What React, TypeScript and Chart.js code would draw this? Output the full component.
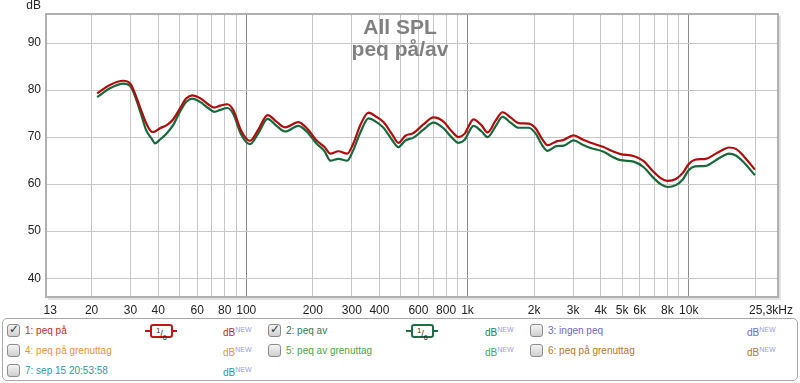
import React, { useEffect, useRef } from "react";
import { Chart, registerables } from "chart.js";

Chart.register(...registerables);

const FREQ_HZ = [21.2, 24.2, 27.8, 29.9, 33.1, 35.3, 37.6, 38.7, 40.8, 43.9, 46.8, 50.3, 53.5, 57.0, 61.9, 67.3, 71.7, 76.3, 82.1, 87.3, 95.0, 104, 113, 125, 137, 150, 172, 191, 207, 226, 240, 261, 286, 305, 328, 357, 388, 417, 458, 487, 524, 570, 632, 702, 779, 846, 911, 969, 1065, 1158, 1232, 1339, 1440, 1565, 1702, 1888, 2031, 2161, 2299, 2525, 2716, 3017, 3313, 3601, 4119, 4528, 4920, 5633, 6257, 6873, 7464, 8035, 8739, 9394, 10000, 10660, 11938, 13249, 14255, 15171, 16322, 17742, 19893];

const PEQ_ON = [79.3, 81.1, 82.0, 81.4, 76.4, 73.0, 71.1, 71.2, 71.9, 72.6, 73.8, 76.2, 78.2, 78.9, 78.3, 77.0, 76.3, 76.7, 77.0, 75.8, 71.3, 69.2, 71.5, 74.7, 73.3, 72.1, 73.2, 71.5, 69.4, 67.9, 66.5, 67.0, 66.5, 68.7, 72.6, 75.2, 74.3, 73.2, 70.5, 68.8, 70.3, 70.9, 72.7, 74.2, 73.3, 71.3, 70.0, 70.7, 73.8, 72.5, 71.0, 73.5, 75.3, 74.2, 73.0, 72.9, 71.9, 69.8, 68.3, 69.1, 69.4, 70.4, 69.5, 68.8, 67.9, 67.0, 66.4, 66.0, 64.9, 62.8, 61.3, 60.7, 61.1, 62.4, 64.3, 65.2, 65.4, 66.5, 67.3, 67.8, 67.5, 65.9, 63.1];

const PEQ_OFF = [78.5, 80.4, 81.4, 80.9, 75.6, 71.5, 69.5, 68.7, 69.5, 70.9, 72.6, 75.5, 77.5, 78.2, 77.5, 76.2, 75.4, 75.8, 76.2, 75.0, 70.5, 68.5, 70.7, 73.9, 72.4, 71.2, 72.4, 70.8, 68.7, 67.0, 65.0, 65.4, 65.0, 67.3, 71.0, 74.0, 73.2, 72.0, 69.3, 67.9, 69.3, 69.9, 71.6, 73.1, 71.9, 70.0, 68.8, 69.4, 72.4, 71.2, 70.0, 72.3, 74.3, 73.1, 72.0, 72.0, 70.8, 68.5, 67.1, 68.1, 68.2, 69.3, 68.4, 67.7, 66.9, 65.8, 65.1, 64.8, 63.6, 61.5, 60.0, 59.4, 59.8, 61.0, 63.0, 63.8, 63.9, 65.1, 66.0, 66.5, 66.1, 64.6, 61.9];

const Y_TICKS = [40, 50, 60, 70, 80, 90];
const X_GRID = [20, 30, 40, 50, 60, 70, 80, 90, 100, 200, 300, 400, 500, 600, 700, 800, 900, 1000, 2000, 3000, 4000, 5000, 6000, 7000, 8000, 9000, 10000, 20000];
const X_LABELS: [number, string][] = [
  [13, "13"], [20, "20"], [30, "30"], [40, "40"], [60, "60"], [80, "80"], [100, "100"],
  [200, "200"], [300, "300"], [400, "400"], [600, "600"], [800, "800"], [1000, "1k"],
  [2000, "2k"], [3000, "3k"], [4000, "4k"], [5000, "5k"], [6000, "6k"], [8000, "8k"], [10000, "10k"],
  [25300, "25,3kHz"],
];
const X_MIN = 12.45;
const X_MAX = 25300;
const Y_MIN = 36;
const Y_MAX = 96.2;

const TITLE_1 = "All SPL";
const TITLE_2 = "peq på/av";

const RED = "#b00c0c";
const GREEN = "#17683a";
const FONT = "'Liberation Sans', Arial, sans-serif";

type LegendItem = { n: string; color: string; checked: boolean; badge: boolean; x: number; row: number };
const LEGEND: LegendItem[] = [
  { n: "1: peq på", color: "#c42a2a", checked: true, badge: true, x: 7, row: 0 },
  { n: "2: peq av", color: "#2b7a55", checked: true, badge: true, x: 268, row: 0 },
  { n: "3: ingen peq", color: "#6a68d2", checked: false, badge: false, x: 530, row: 0 },
  { n: "4: peq på grenuttag", color: "#ee9440", checked: false, badge: false, x: 7, row: 1 },
  { n: "5: peq av grenuttag", color: "#48a848", checked: false, badge: false, x: 268, row: 1 },
  { n: "6: peq på grenuttag", color: "#b8752e", checked: false, badge: false, x: 530, row: 1 },
  { n: "7: sep 15 20:53:58", color: "#2f9aa6", checked: false, badge: false, x: 7, row: 2 },
];

const framePlugin = {
  id: "frame",
  afterDraw(chart: any) {
    const { ctx, chartArea } = chart;
    const { left, right, top, bottom } = chartArea;
    const xs = chart.scales.x;
    ctx.save();
    // frame with shadow
    ctx.strokeStyle = "#e2e2e2";
    ctx.lineWidth = 2;
    ctx.beginPath();
    ctx.moveTo(right + 2, top + 2);
    ctx.lineTo(right + 2, bottom + 2);
    ctx.lineTo(left + 2, bottom + 2);
    ctx.stroke();
    ctx.strokeStyle = "#b0b0b0";
    ctx.lineWidth = 2;
    ctx.strokeRect(left, top, right - left, bottom - top);
    // title
    ctx.fillStyle = "#808080";
    ctx.font = `bold 21px ${FONT}`;
    ctx.textAlign = "center";
    ctx.textBaseline = "alphabetic";
    ctx.fillText(TITLE_1, 400, 34);
    ctx.fillText(TITLE_2, 400, 56);
    // unit label
    ctx.fillStyle = "#222";
    ctx.font = `12px ${FONT}`;
    ctx.textAlign = "right";
    ctx.fillText("dB", 41, 9);
    // x labels
    ctx.textAlign = "center";
    for (const [v, t] of X_LABELS) {
      let px = xs.getPixelForValue(v);
      const w = ctx.measureText(t).width;
      px = Math.max(px, left + 2);
      px = Math.min(px, 793 - w / 2);
      ctx.fillText(t, px, 314);
    }
    ctx.restore();
  },
};

function Checkbox({ checked }: { checked: boolean }) {
  return (
    <div
      style={{
        position: "absolute",
        left: 0,
        top: 0,
        width: 11,
        height: 11,
        border: "1px solid #8c8c8c",
        borderRadius: 3,
        background: "linear-gradient(#f4f4f4, #cfcfcf)",
        boxSizing: "content-box",
      }}
    >
      {checked && (
        <span
          style={{
            position: "absolute",
            left: 1,
            top: -3,
            fontSize: 12,
            fontWeight: "bold",
            color: "#333",
            fontFamily: "'DejaVu Sans', sans-serif",
          }}
        >
          ✓
        </span>
      )}
    </div>
  );
}

function Badge({ color }: { color: string }) {
  return (
    <div style={{ position: "absolute", left: 138, top: 0, width: 32, height: 13 }}>
      <div style={{ position: "absolute", left: 0, top: 6, width: 32, height: 2, background: color }} />
      <div
        style={{
          position: "absolute",
          left: 5,
          top: 0,
          width: 19,
          height: 10,
          border: `2px solid ${color}`,
          borderRadius: 3,
          background: "#fff",
          fontSize: 9,
          lineHeight: "10px",
          textAlign: "center",
          color: "#222",
          fontFamily: FONT,
        }}
      >
        <sup style={{ fontSize: 7 }}>1</sup>/<sub style={{ fontSize: 7 }}>6</sub>
      </div>
    </div>
  );
}

export default function App() {
  const ref = useRef<HTMLCanvasElement | null>(null);

  useEffect(() => {
    document.body.style.margin = "0";
    const canvas = ref.current;
    if (!canvas) return;
    const chart = new Chart(canvas, {
      type: "line",
      data: {
        datasets: [
          {
            label: "1: peq på",
            data: FREQ_HZ.map((f, i) => ({ x: f, y: PEQ_ON[i] })),
            borderColor: RED,
            borderWidth: 2.2,
            pointRadius: 0,
            fill: false,
            cubicInterpolationMode: "monotone",
          },
          {
            label: "2: peq av",
            data: FREQ_HZ.map((f, i) => ({ x: f, y: PEQ_OFF[i] })),
            borderColor: GREEN,
            borderWidth: 2.2,
            pointRadius: 0,
            fill: false,
            cubicInterpolationMode: "monotone",
          },
        ],
      },
      options: {
        animation: false,
        responsive: false,
        layout: { padding: { top: 14, right: 22, left: 0, bottom: 0 } },
        plugins: { legend: { display: false }, tooltip: { enabled: false } },
        scales: {
          x: {
            type: "logarithmic",
            min: X_MIN,
            max: X_MAX,
            afterBuildTicks: (s: any) => {
              s.ticks = X_GRID.map((v) => ({ value: v }));
            },
            afterFit: (s: any) => {
              s.height = 19;
            },
            ticks: { display: false },
            grid: {
              drawTicks: false,
              color: (c: any) => {
                const v = c.tick && c.tick.value;
                return v === 100 || v === 1000 || v === 10000 ? "#8a8a8a" : "#c6c6c6";
              },
              lineWidth: 1,
            },
            border: { display: false },
          },
          y: {
            min: Y_MIN,
            max: Y_MAX,
            afterBuildTicks: (s: any) => {
              s.ticks = Y_TICKS.map((v) => ({ value: v }));
            },
            afterFit: (s: any) => {
              s.width = 46;
            },
            ticks: { padding: 5, color: "#222", font: { size: 12, family: FONT } },
            grid: { drawTicks: false, color: "#c6c6c6", lineWidth: 1 },
            border: { display: false },
          },
        },
      } as any,
      plugins: [framePlugin],
    });
    return () => chart.destroy();
  }, []);

  return (
    <div
      style={{
        position: "absolute",
        left: 0,
        top: 0,
        width: 800,
        height: 383,
        background: "#fff",
        fontFamily: FONT,
        overflow: "hidden",
      }}
    >
      <canvas ref={ref} width={800} height={316} style={{ position: "absolute", left: 0, top: 0, width: 800, height: 316 }} />
      <div
        style={{
          position: "absolute",
          left: 2,
          top: 318,
          width: 794,
          height: 61,
          border: "1px solid #a8a8a8",
          borderRadius: 5,
          boxSizing: "content-box",
        }}
      />
      {LEGEND.map((it) => {
        const top = 324 + it.row * 20;
        const dbX = it.x === 7 ? 223 : it.x === 268 ? 485 : 747;
        return (
          <div key={it.n}>
            <div style={{ position: "absolute", left: it.x, top, width: 13, height: 13 }}>
              <Checkbox checked={it.checked} />
            </div>
            <div
              style={{
                position: "absolute",
                left: it.x + 18,
                top: top,
                height: 13,
                lineHeight: "13px",
                fontSize: 10,
                color: it.color,
                whiteSpace: "nowrap",
              }}
            >
              {it.n}
            </div>
            {it.badge && (
              <div style={{ position: "absolute", left: it.x, top: top }}>
                <Badge color={it.color === "#c42a2a" ? "#c01818" : "#1d6e45"} />
              </div>
            )}
            <div
              style={{
                position: "absolute",
                left: dbX,
                top: top - 1,
                fontSize: 10,
                lineHeight: "13px",
                color: it.color,
                whiteSpace: "nowrap",
              }}
            >
              dB<sup style={{ fontSize: 7, color: "#9a9af0", verticalAlign: "4px" }}>NEW</sup>
            </div>
          </div>
        );
      })}
    </div>
  );
}
